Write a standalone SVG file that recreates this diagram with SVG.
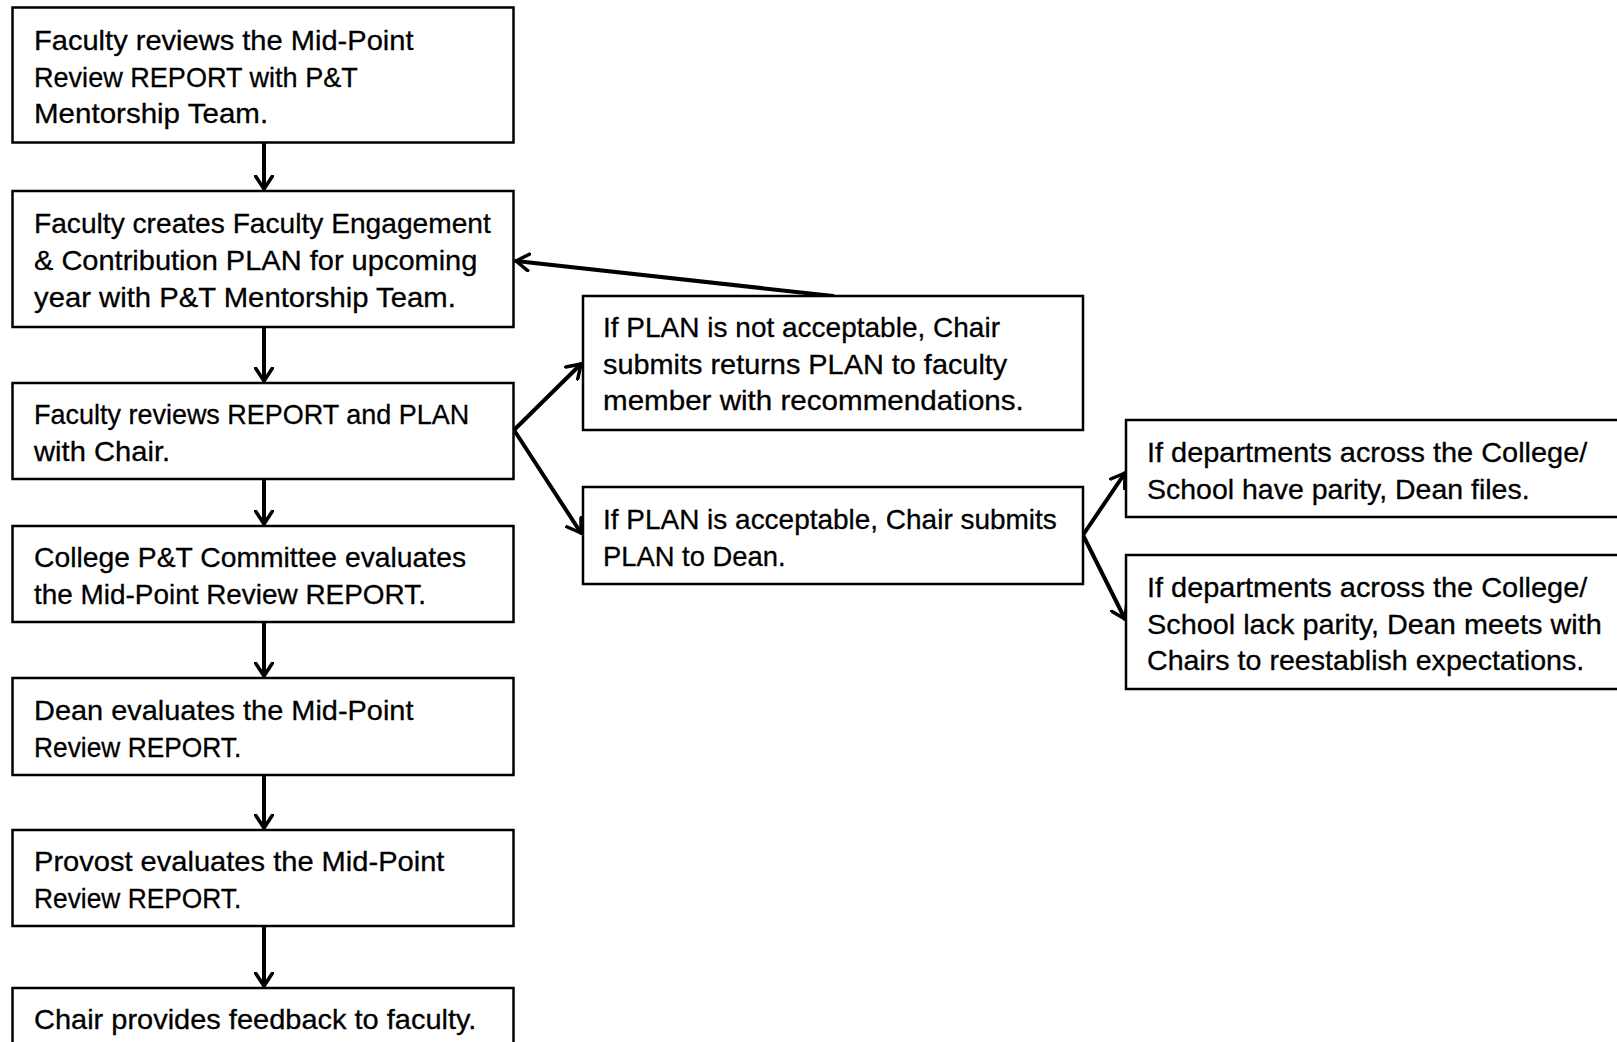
<svg xmlns="http://www.w3.org/2000/svg" width="1617" height="1042" viewBox="0 0 1617 1042">
<style>
.box{fill:#fff;stroke:#000;stroke-width:2.5}
.t{font-family:"Liberation Sans",Arial,sans-serif;font-size:28.5px;fill:#000;stroke:#000;stroke-width:0.3}
.c{fill:none;stroke:#000;stroke-width:4;stroke-linecap:round}
</style>
<defs>
<marker id="ah" viewBox="0 0 16 20" refX="14.5" refY="10" markerWidth="16" markerHeight="20" markerUnits="userSpaceOnUse" orient="auto">
<path d="M1.5,1.5 L14.5,10 L1.5,18.5" fill="none" stroke="#000" stroke-width="3.5" stroke-linecap="round" stroke-linejoin="round"/>
</marker>
</defs>
<rect width="1617" height="1042" fill="#fff"/>
<g id="connectors">
<line class="c" x1="264" y1="143" x2="264" y2="189" marker-end="url(#ah)"/>
<line class="c" x1="264" y1="327" x2="264" y2="381" marker-end="url(#ah)"/>
<line class="c" x1="264" y1="479" x2="264" y2="524" marker-end="url(#ah)"/>
<line class="c" x1="264" y1="622" x2="264" y2="676" marker-end="url(#ah)"/>
<line class="c" x1="264" y1="775" x2="264" y2="828" marker-end="url(#ah)"/>
<line class="c" x1="264" y1="926" x2="264" y2="986" marker-end="url(#ah)"/>
<line class="c" x1="514" y1="430" x2="581" y2="364" marker-end="url(#ah)"/>
<line class="c" x1="514" y1="430" x2="581" y2="533" marker-end="url(#ah)"/>
<line class="c" x1="833" y1="296" x2="516" y2="261" marker-end="url(#ah)"/>
<line class="c" x1="1083" y1="535" x2="1125" y2="473" marker-end="url(#ah)"/>
<line class="c" x1="1083" y1="535" x2="1125" y2="619" marker-end="url(#ah)"/>
</g>
<g id="n1"><rect class="box" x="12.5" y="7.5" width="501" height="135"/>
<text class="t" x="34" y="49.5" textLength="379.5" lengthAdjust="spacingAndGlyphs">Faculty reviews the Mid-Point</text>
<text class="t" x="34" y="86.5" textLength="323.8" lengthAdjust="spacingAndGlyphs">Review REPORT with P&amp;T</text>
<text class="t" x="34" y="122.5" textLength="234.1" lengthAdjust="spacingAndGlyphs">Mentorship Team.</text></g>
<g id="n2"><rect class="box" x="12.5" y="191" width="501" height="136"/>
<text class="t" x="34" y="233" textLength="456.8" lengthAdjust="spacingAndGlyphs">Faculty creates Faculty Engagement</text>
<text class="t" x="34" y="270" textLength="443.4" lengthAdjust="spacingAndGlyphs">&amp; Contribution PLAN for upcoming</text>
<text class="t" x="34" y="307" textLength="421.8" lengthAdjust="spacingAndGlyphs">year with P&amp;T Mentorship Team.</text></g>
<g id="n3"><rect class="box" x="12.5" y="383" width="501" height="96"/>
<text class="t" x="34" y="424" textLength="435.2" lengthAdjust="spacingAndGlyphs">Faculty reviews REPORT and PLAN</text>
<text class="t" x="34" y="461" textLength="136.1" lengthAdjust="spacingAndGlyphs">with Chair.</text></g>
<g id="n4"><rect class="box" x="12.5" y="526" width="501" height="96"/>
<text class="t" x="34" y="567" textLength="432.1" lengthAdjust="spacingAndGlyphs">College P&amp;T Committee evaluates</text>
<text class="t" x="34" y="604" textLength="391.9" lengthAdjust="spacingAndGlyphs">the Mid-Point Review REPORT.</text></g>
<g id="n5"><rect class="box" x="12.5" y="678" width="501" height="97"/>
<text class="t" x="34" y="720" textLength="379.5" lengthAdjust="spacingAndGlyphs">Dean evaluates the Mid-Point</text>
<text class="t" x="34" y="757" textLength="207.3" lengthAdjust="spacingAndGlyphs">Review REPORT.</text></g>
<g id="n6"><rect class="box" x="12.5" y="830" width="501" height="96"/>
<text class="t" x="34" y="871" textLength="410.4" lengthAdjust="spacingAndGlyphs">Provost evaluates the Mid-Point</text>
<text class="t" x="34" y="908" textLength="207.3" lengthAdjust="spacingAndGlyphs">Review REPORT.</text></g>
<g id="n7"><rect class="box" x="12.5" y="988" width="501" height="80"/>
<text class="t" x="34" y="1029" textLength="442.4" lengthAdjust="spacingAndGlyphs">Chair provides feedback to faculty.</text></g>
<g id="n8"><rect class="box" x="583" y="296" width="500" height="134"/>
<text class="t" x="603" y="337" textLength="397" lengthAdjust="spacingAndGlyphs">If PLAN is not acceptable, Chair</text>
<text class="t" x="603" y="374" textLength="404.3" lengthAdjust="spacingAndGlyphs">submits returns PLAN to faculty</text>
<text class="t" x="603" y="410" textLength="420.8" lengthAdjust="spacingAndGlyphs">member with recommendations.</text></g>
<g id="n9"><rect class="box" x="583" y="487" width="500" height="97"/>
<text class="t" x="603" y="529" textLength="453.8" lengthAdjust="spacingAndGlyphs">If PLAN is acceptable, Chair submits</text>
<text class="t" x="603" y="566" textLength="182.5" lengthAdjust="spacingAndGlyphs">PLAN to Dean.</text></g>
<g id="n10"><rect class="box" x="1126" y="420" width="520" height="97"/>
<text class="t" x="1147" y="462" textLength="440.3" lengthAdjust="spacingAndGlyphs">If departments across the College/</text>
<text class="t" x="1147" y="499" textLength="382.6" lengthAdjust="spacingAndGlyphs">School have parity, Dean files.</text></g>
<g id="n11"><rect class="box" x="1126" y="555" width="520" height="134"/>
<text class="t" x="1147" y="597" textLength="440.3" lengthAdjust="spacingAndGlyphs">If departments across the College/</text>
<text class="t" x="1147" y="634" textLength="454.8" lengthAdjust="spacingAndGlyphs">School lack parity, Dean meets with</text>
<text class="t" x="1147" y="670" textLength="437.3" lengthAdjust="spacingAndGlyphs">Chairs to reestablish expectations.</text></g>
</svg>
